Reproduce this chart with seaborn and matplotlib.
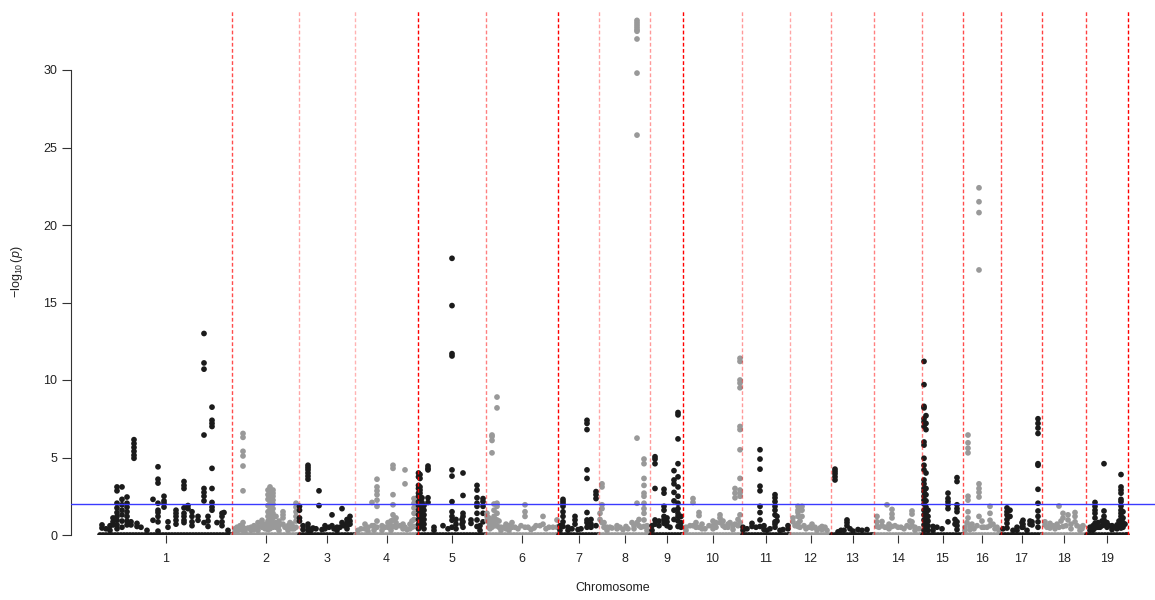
import matplotlib
matplotlib.use("Agg")
import numpy as np
import pandas as pd
import matplotlib.pyplot as plt
import seaborn as sns

# ---------------- data ----------------
chromosomes = [str(i) for i in range(1, 20)]
# chromosome lengths (genome units, as laid out on the axis)
chrom_length = [132, 67, 56, 63, 68, 72, 41, 51, 33, 59, 48, 41, 43, 48, 41, 38, 41, 44, 42]
threshold = 2.0  # -log10(0.01)
y_ticks = [0, 5, 10, 15, 20, 25, 30]

# SNPs per chromosome: (position within chromosome, [ -log10(p) values at that position ])
c1_snps = [(2, [0.65, 0.45]), (6, [0.4]), (10, [0.6, 0.3]), (13, [1.1, 0.85, 0.65]),
           (17, [3.1, 2.85, 2.05, 1.75, 1.45, 1.2, 0.95, 0.65, 0.4]),
           (22, [3.1, 2.3, 1.95, 1.6, 1.3, 0.9, 0.5]),
           (27, [2.45, 2.05, 1.8, 1.5, 1.2, 0.9, 0.65]), (31, [0.85, 0.65]),
           (34, [6.15, 5.9, 5.65, 5.4, 5.15, 4.95]), (37, [0.75, 0.55]), (41, [0.5]), (47, [0.3]),
           (53, [2.3, 0.95]), (58, [4.4, 3.6, 3.35, 2.05, 1.6, 1.45, 1.2, 0.85, 0.25]),
           (64, [2.5, 2.2, 2.05, 1.8]), (68, [0.85, 0.5]), (76, [1.6, 1.4, 1.2, 0.95, 0.7]),
           (84, [3.45, 3.2, 3.0, 1.75, 1.4, 1.2, 0.95, 0.8]), (88, [1.9, 1.7]),
           (92, [1.5, 1.2, 0.85, 0.6]), (98, [1.2, 0.95]),
           (104, [13.0, 11.1, 10.7, 6.45, 3.0, 2.75, 2.5, 2.2, 0.8]), (108, [1.2, 0.9, 0.55]),
           (112, [8.25, 7.4, 7.2, 7.0, 4.3, 3.0, 2.1, 1.8, 1.6]), (117, [0.8]),
           (122, [1.4, 1.2, 0.85, 0.6]), (124, [1.45]), (128, [0.3])]
c2_snps = [(3, [0.4, 0.2]), (5, [0.5, 0.25]), (8, [0.6, 0.35]),
           (11, [6.55, 6.3, 5.4, 5.1, 4.45, 2.85, 0.8, 0.5, 0.3]), (13, [0.4, 0.2]),
           (16, [0.45]), (19, [0.5, 0.3]), (22, [0.6, 0.35]), (26, [0.8, 0.5, 0.3]),
           (30, [0.95, 0.75, 0.5]), (33, [0.7, 0.4]),
           (36, [2.9, 2.6, 2.3, 1.9, 1.5, 1.2, 0.9, 0.6, 0.35]),
           (38, [3.1, 2.95, 2.8, 2.6, 2.4, 2.2, 2.0, 1.8, 1.6, 1.3, 1.0, 0.7, 0.4]),
           (41, [2.9, 2.7, 2.5, 2.25, 2.0, 1.7, 1.4, 1.1, 0.8, 0.5]), (44, [1.2, 0.8, 0.5]),
           (47, [0.9, 0.6, 0.3]), (51, [1.5, 1.3, 1.1, 0.7]), (53, [0.5]), (56, [0.6, 0.3]),
           (58, [0.8, 0.5]), (60, [0.7, 0.4]), (62, [0.4]),
           (64, [2.05, 1.8, 1.5, 1.2, 0.9, 0.5])]
c3_snps = [(0.5, [1.85, 1.6, 1.1, 0.9]), (4, [0.6, 0.35]),
           (9, [4.5, 4.35, 4.2, 4.0, 3.8, 3.6, 0.7, 0.5, 0.3]), (12, [0.3]), (14, [0.45]),
           (17, [0.4]), (20, [2.85, 1.9]), (23, [0.35]), (26, [0.6, 0.4]), (30, [0.5]),
           (33, [1.3, 0.6]), (35, [0.4]), (38, [0.5, 0.3]), (41, [0.5]), (43, [1.7, 0.8]),
           (45, [0.6]), (48, [1.0, 0.8, 0.6, 0.4]), (51, [1.2, 0.9, 0.7])]
c4_snps = [(3, [0.3]), (6, [0.4]), (10, [0.7, 0.4]), (13, [0.5, 0.25]), (17, [2.1, 0.6]),
           (19, [0.6, 0.3]), (22, [3.6, 3.1, 2.85, 2.6, 2.25, 1.85, 0.9, 0.5]), (27, [0.6, 0.3]),
           (30, [0.5]), (33, [0.8, 0.5]), (36, [0.9, 0.6, 0.3]),
           (38, [4.5, 4.3, 2.6, 1.95, 1.3, 0.97, 0.55]), (41, [1.1, 0.8, 0.5]), (45, [0.6]),
           (48, [0.7, 0.4]), (50, [4.2, 3.3, 0.5]), (52, [0.35]), (55, [0.7, 0.4]),
           (57, [0.9, 0.5]), (59, [2.35, 2.05, 1.75, 1.4, 1.0, 0.55])]
c5_snps = [(0.5, [4.0, 3.75, 3.2, 3.0, 2.7, 2.5, 2.15, 1.9, 1.6, 1.3, 1.0, 0.7, 0.4]),
           (2, [3.9, 3.65, 3.1, 2.9, 2.7, 2.35, 2.15, 1.95, 1.7, 1.4, 1.2, 0.97, 0.75, 0.55]),
           (4, [2.4, 2.1, 1.8, 1.5, 1.2, 0.9, 0.6]), (6, [1.9, 1.6, 1.3, 1.0, 0.7, 0.4]),
           (10, [4.45, 4.3, 4.2, 2.4, 2.1]), (16, [0.5, 0.3]), (25, [0.6]), (30, [0.4]),
           (34, [17.85, 14.8, 11.7, 11.55, 4.2, 3.8, 2.15, 1.5, 1.2, 0.95, 0.5]),
           (38, [1.0, 0.7, 0.4]), (44, [1.0, 0.7]), (45, [4.0, 2.55, 1.4, 1.2, 0.85, 0.5]),
           (53, [0.97, 0.75]), (59, [3.2, 2.9, 2.4, 2.05, 1.85, 1.4, 0.97, 0.55]),
           (62, [0.6, 0.3]), (65, [2.35, 2.15, 1.85, 1.4, 0.85])]
c6_snps = [(1, [1.4, 1.2, 0.95]), (3, [1.1, 0.8, 0.5]), (4, [0.9, 0.4]),
           (6, [6.45, 6.35, 6.1, 5.3, 1.0, 0.7, 0.5]), (8, [2.0, 1.6, 1.2, 0.8]), (9, [1.0, 0.6]),
           (11, [8.9, 8.2, 2.05, 1.85, 1.4, 0.97, 0.6]), (13, [0.9, 0.5]), (15, [0.5, 0.3]),
           (18, [0.5]), (20, [0.7, 0.4]), (23, [0.6, 0.3]), (26, [0.8, 0.5]), (29, [0.5]),
           (32, [0.4]), (35, [0.6]), (39, [1.95, 1.5, 1.2, 0.5]), (42, [0.5]), (45, [0.35]),
           (48, [0.45]), (50, [0.6]), (54, [0.6]), (57, [1.2, 0.7]), (60, [0.4]), (63, [0.5]),
           (67, [0.5]), (71, [0.97, 0.5])]
c7_snps = [(2, [0.6, 0.3]), (5, [2.3, 2.15, 2.0, 1.85, 1.5, 1.2, 0.85, 0.55]), (10, [0.5, 0.3]),
           (14, [0.4]), (17, [1.2, 0.97, 0.7]), (20, [0.35]), (23, [0.4]),
           (29, [7.4, 7.2, 6.8, 4.2, 3.65, 1.45, 0.97, 0.8, 0.5]),
           (33, [1.0, 0.7, 0.5]), (38, [2.8, 2.6, 2.35, 0.6])]
c8_snps = [(1, [1.4, 1.0]), (3, [3.3, 3.1, 1.95, 1.7, 0.8]), (5, [0.8, 0.5]), (8, [0.5, 0.3]),
           (11, [0.5]), (13, [0.45]), (18, [0.6, 0.4]), (21, [0.5]), (24, [0.35]), (27, [0.55]),
           (29, [0.4]), (33, [0.8]), (35, [0.6, 0.4]),
           (38, [33.2, 33.05, 32.9, 32.75, 32.6, 32.5, 32.0, 29.8, 25.8, 6.25, 2.05, 0.8]),
           (40, [1.0, 0.6]), (42, [0.5]),
           (45, [4.9, 4.6, 3.65, 3.2, 2.7, 2.5, 2.05, 1.7, 1.4, 0.97, 0.55]), (48, [0.6, 0.3])]
c9_snps = [(2, [0.6, 0.3]), (5, [5.05, 4.9, 4.6, 3.0, 0.97, 0.7]), (9, [0.9, 0.6]),
           (14, [2.95, 2.7, 1.85, 1.6, 1.2, 1.0, 0.75]), (17, [1.1, 0.85, 0.6]), (20, [0.5]),
           (24, [4.15, 3.55, 3.3, 2.75, 2.2, 1.6, 1.0]),
           (28, [7.9, 7.75, 6.2, 4.6, 3.75, 3.1, 2.5, 2.05, 1.7, 1.4, 1.2, 0.9, 0.55]),
           (31, [1.2, 0.8, 0.5])]
c10_snps = [(3, [0.5, 0.3]), (7, [0.6]), (10, [2.35, 2.1, 0.6]), (13, [0.8, 0.5]),
            (16, [1.45, 1.25, 0.5]), (19, [0.7, 0.4]), (22, [0.4]), (26, [0.6]),
            (30, [0.9, 0.6, 0.4]), (33, [0.8, 0.5]), (37, [1.3, 1.1, 0.8]), (40, [0.9, 0.6]),
            (42, [0.5]), (45, [0.7, 0.5]), (47, [0.8]), (50, [0.6, 0.35]),
            (52, [3.0, 2.7, 2.4, 0.7]), (55, [1.0, 0.6]),
            (57, [11.4, 11.2, 10.0, 9.8, 9.5, 7.0, 6.8, 5.5, 3.65, 2.9, 2.7, 2.5, 1.3, 0.8])]
c11_snps = [(1, [0.5, 0.3]), (5, [0.4]), (10, [0.75, 0.55]), (14, [0.5]),
            (18, [5.5, 4.9, 4.25, 3.15, 2.85, 1.85, 1.45, 0.97, 0.55]), (22, [0.6, 0.35]),
            (25, [0.3]), (28, [0.4]), (33, [2.6, 2.4, 2.15, 1.85, 1.6, 1.3, 0.85, 0.7, 0.5]),
            (35, [1.2, 0.9]), (38, [0.3]), (41, [0.35]), (46, [0.6, 0.4])]
c12_snps = [(3, [1.1, 0.85]), (5, [0.6]), (8, [1.85, 1.6, 1.45, 1.2, 0.75, 0.55]),
            (10, [0.9, 0.5]), (12, [1.85, 1.6, 1.2]), (14, [0.6]), (16, [0.4]), (19, [0.5]),
            (22, [0.7, 0.45]), (25, [0.5]), (27, [0.3]), (30, [0.45]), (32, [0.55, 0.35]),
            (35, [0.5]), (37, [0.3])]
c13_snps = [(4, [4.25, 4.1, 3.95, 3.75, 3.55]), (7, [0.2]), (10, [0.3]), (13, [0.3]),
            (16, [0.97, 0.8, 0.6]), (19, [0.4]), (22, [0.25]), (27, [0.35]), (31, [0.3]),
            (36, [0.35])]
c14_snps = [(3, [1.2, 0.85, 0.55]), (5, [0.5]), (8, [0.87, 0.6]), (11, [0.5]), (13, [1.95, 0.5]),
            (15, [0.7, 0.4]), (18, [1.65, 1.35, 1.1, 0.55]), (21, [0.6]), (24, [0.5]),
            (27, [0.5]), (30, [0.4]), (33, [0.6]), (36, [0.9, 0.5]),
            (38, [1.55, 1.35, 0.85, 0.6]), (41, [0.5, 0.3]), (45, [0.4])]
c15_snps = [(2, [11.2, 9.7, 8.3, 8.2, 7.5, 7.3, 7.0, 6.0, 5.8, 4.95, 4.5, 4.2, 3.55, 3.3, 3.0,
                 2.8, 2.5, 2.25, 2.0, 1.6, 1.3, 0.97, 0.65, 0.3]),
            (4, [7.7, 7.2, 6.8, 4.0, 3.0, 2.6, 2.2, 1.8, 1.4, 1.1, 0.8, 0.5]),
            (6, [1.6, 1.2, 0.9, 0.6, 0.3]), (11, [0.55, 0.3]), (15, [0.5]), (20, [0.4]),
            (26, [2.7, 2.35, 2.15, 1.95, 1.7, 0.85]), (33, [1.0, 0.7]),
            (35, [3.7, 3.45, 1.95, 1.7, 1.5, 0.85, 0.6, 0.35])]
c16_snps = [(2, [0.5, 0.3]), (4, [0.8]), (5, [6.45, 5.95, 5.6, 5.3, 2.5, 2.25, 1.5, 1.1]),
            (7, [0.6, 0.35]), (9, [0.7]), (11, [0.4]), (14, [0.6]),
            (16, [22.4, 21.5, 20.8, 17.1, 3.3, 3.0, 2.75, 2.45, 1.2]), (19, [0.9, 0.5]),
            (21, [0.5]), (24, [0.5]), (27, [1.85, 1.4, 0.95, 0.6]), (30, [0.7]), (32, [0.4]),
            (34, [0.5]), (36, [0.3])]
c17_snps = [(2, [0.4]), (6, [1.75, 1.5, 1.3, 1.0, 0.75, 0.45]), (9, [1.6, 1.2]), (12, [0.3]),
            (16, [0.5, 0.3]), (21, [0.8, 0.5]), (22, [0.95, 0.7, 0.5]), (26, [0.3]),
            (29, [0.9, 0.7]), (31, [0.85, 0.65]),
            (37, [7.5, 7.2, 6.9, 6.55, 4.6, 4.5, 2.95, 2.05, 1.55, 1.2, 0.85, 0.5])]
c18_snps = [(3, [0.85, 0.65]), (5, [0.5]), (8, [0.75, 0.45]), (11, [0.6]), (13, [0.4]),
            (15, [0.7]), (17, [1.87, 0.5]), (19, [0.9]), (21, [1.4, 1.1, 0.55]), (24, [0.6]),
            (26, [1.3, 0.97]), (29, [0.7, 0.4]), (33, [1.45, 1.2, 0.85]), (35, [0.6]),
            (38, [0.5, 0.3]), (40, [0.4]), (41, [0.6])]
c19_snps = [(4, [0.5, 0.3]), (7, [0.6, 0.3]), (9, [2.1, 1.85, 1.6, 1.4, 1.1, 0.75, 0.45]),
            (12, [0.8, 0.5]), (14, [0.5]), (16, [0.9, 0.6]), (18, [4.6, 1.55, 1.2, 0.97, 0.65]),
            (21, [0.8, 0.5]), (23, [0.6]), (26, [0.6, 0.35]), (29, [0.5]), (31, [0.65, 0.4]),
            (33, [0.9, 0.6]),
            (35, [3.9, 3.1, 2.9, 2.7, 2.3, 2.15, 1.87, 1.6, 1.4, 1.2, 0.97, 0.75, 0.45]),
            (37, [1.5, 1.1, 0.8, 0.5]), (39, [0.7])]

# dense non-significant SNPs (-log10 p ~ 0) along each chromosome
c1_base = [0, 3, 6, 9, 12, 15, 18, 21, 24, 27, 30, 33, 36, 39, 42, 45, 48, 51, 54, 57, 60, 63,
           66, 69, 72, 75, 78, 81, 84, 87, 90, 93, 96, 99, 102, 105, 108, 111, 114, 117, 120,
           123, 126, 129, 131]
c2_base = [1, 4, 7, 10, 13, 16, 19, 22, 25, 28, 31, 34, 37, 40, 43, 46, 49, 52, 55, 58, 61, 64, 66]
c3_base = [1, 4, 7, 10, 13, 16, 19, 22, 25, 28, 31, 34, 37, 40, 43, 46, 49, 52, 55]
c4_base = [1, 4, 7, 10, 13, 16, 19, 22, 25, 28, 31, 34, 37, 40, 43, 46, 49, 52, 55, 58, 61, 62]
c5_base = [1, 4, 7, 10, 13, 16, 19, 22, 25, 28, 31, 34, 37, 40, 43, 46, 49, 52, 55, 58, 61, 64, 67]
c6_base = [1, 4, 7, 10, 13, 16, 19, 22, 25, 28, 31, 34, 37, 40, 43, 46, 49, 52, 55, 58, 61, 64,
           67, 70, 71]
c7_base = [1, 4, 7, 10, 13, 16, 19, 22, 25, 28, 31, 34, 37, 40]
c8_base = [1, 4, 7, 10, 13, 16, 19, 22, 25, 28, 31, 34, 37, 40, 43, 46, 49, 50]
c9_base = [1, 4, 7, 10, 13, 16, 19, 22, 25, 28, 31, 32]
c10_base = [1, 4, 7, 10, 13, 16, 19, 22, 25, 28, 31, 34, 37, 40, 43, 46, 49, 52, 55, 58]
c11_base = [1, 4, 7, 10, 13, 16, 19, 22, 25, 28, 31, 34, 37, 40, 43, 46, 47]
c12_base = [1, 4, 7, 10, 13, 16, 19, 22, 25, 28, 31, 34, 37, 40]
c13_base = [1, 4, 7, 10, 13, 16, 19, 22, 25, 28, 31, 34, 37, 40, 42]
c14_base = [1, 4, 7, 10, 13, 16, 19, 22, 25, 28, 31, 34, 37, 40, 43, 46, 47]
c15_base = [1, 4, 7, 10, 13, 16, 19, 22, 25, 28, 31, 34, 37, 40]
c16_base = [1, 4, 7, 10, 13, 16, 19, 22, 25, 28, 31, 34, 37]
c17_base = [1, 4, 7, 10, 13, 16, 19, 22, 25, 28, 31, 34, 37, 40]
c18_base = [1, 4, 7, 10, 13, 16, 19, 22, 25, 28, 31, 34, 37, 40, 43]
c19_base = [1, 4, 7, 10, 13, 16, 19, 22, 25, 28, 31, 34, 37, 40, 41]

snp_sets = [c1_snps, c2_snps, c3_snps, c4_snps, c5_snps, c6_snps, c7_snps, c8_snps, c9_snps,
            c10_snps, c11_snps, c12_snps, c13_snps, c14_snps, c15_snps, c16_snps, c17_snps,
            c18_snps, c19_snps]
base_sets = [c1_base, c2_base, c3_base, c4_base, c5_base, c6_base, c7_base, c8_base, c9_base,
             c10_base, c11_base, c12_base, c13_base, c14_base, c15_base, c16_base, c17_base,
             c18_base, c19_base]

# ---------------- build table ----------------
offsets = np.concatenate([[0], np.cumsum(chrom_length)[:-1]])
rows = []
for i, chrom in enumerate(chromosomes):
    grp = "odd" if i % 2 == 0 else "even"
    for p in base_sets[i]:
        rows.append((chrom, offsets[i] + p, 0.0, grp))
    for p, vals in snp_sets[i]:
        for v in vals:
            rows.append((chrom, offsets[i] + p, v, grp))
df = pd.DataFrame(rows, columns=["chrom", "pos", "logp", "group"])

mids = offsets + np.array(chrom_length) / 2.0
bounds = offsets[1:].tolist() + [offsets[-1] + chrom_length[-1]]

# ---------------- style ----------------
sns.set_theme(style="white")
plt.rcParams["font.family"] = ["Liberation Sans", "DejaVu Sans"]
plt.rcParams["mathtext.fontset"] = "custom"
plt.rcParams["mathtext.rm"] = "Liberation Sans"
plt.rcParams["mathtext.it"] = "Liberation Sans:italic"

W, H = 1155, 600
fig = plt.figure(figsize=(W / 100, H / 100), dpi=100)
fig.patch.set_facecolor("white")
ax = fig.add_axes([71 / W, 65 / H, (W - 71) / W, 525 / H])
ax.set_facecolor("white")

palette = {"odd": "#1b1b1b", "even": "#999999"}
sns.scatterplot(data=df, x="pos", y="logp", hue="group", palette=palette, s=17,
                linewidth=0, legend=False, ax=ax, zorder=2)

boundary_alpha = [0.7, 0.35, 0.3, 1.0, 0.5, 1.0, 0.35, 0.4, 1.0, 0.4, 0.35, 0.45, 0.5,
                  0.5, 0.7, 0.7, 0.75, 0.75, 1.0]
for b, a in zip(bounds, boundary_alpha):
    ax.axvline(b, color="#ff0000", lw=1.0, ls=(0, (2.7, 1.7)), alpha=a, zorder=3)
ax.axhline(threshold, color="#3a3aff", lw=1.0, zorder=3)

ax.set_xlim(-29, 1055)
ax.set_ylim(0, 525 / 15.5)
ax.set_yticks(y_ticks)
ax.set_yticklabels([str(t) for t in y_ticks])
ax.set_xticks(mids)
ax.set_xticklabels(chromosomes)
ax.set_xlabel("")
ax.set_ylabel("")

for s in ["top", "right", "bottom"]:
    ax.spines[s].set_visible(False)
ax.spines["left"].set_bounds(0, 30)
ax.spines["left"].set_color("#333333")
ax.spines["left"].set_linewidth(0.8)
ax.tick_params(axis="x", direction="out", length=6, width=0.8, color="#333333",
               pad=7, labelsize=9, labelcolor="#222222", bottom=True)
ax.tick_params(axis="y", direction="out", length=6.5, width=0.8, color="#333333",
               pad=3.5, labelsize=9, labelcolor="#222222", left=True)
ax.grid(False)

fig.text(17 / W, 1 - 272 / H, r"$-\log_{10}(p)$", rotation=90, ha="center", va="center",
         fontsize=9, color="#222222")
fig.text(613 / W, 1 - 588 / H, "Chromosome", ha="center", va="center", fontsize=9,
         color="#222222")

fig.savefig("out.png", dpi=100, facecolor="white")
